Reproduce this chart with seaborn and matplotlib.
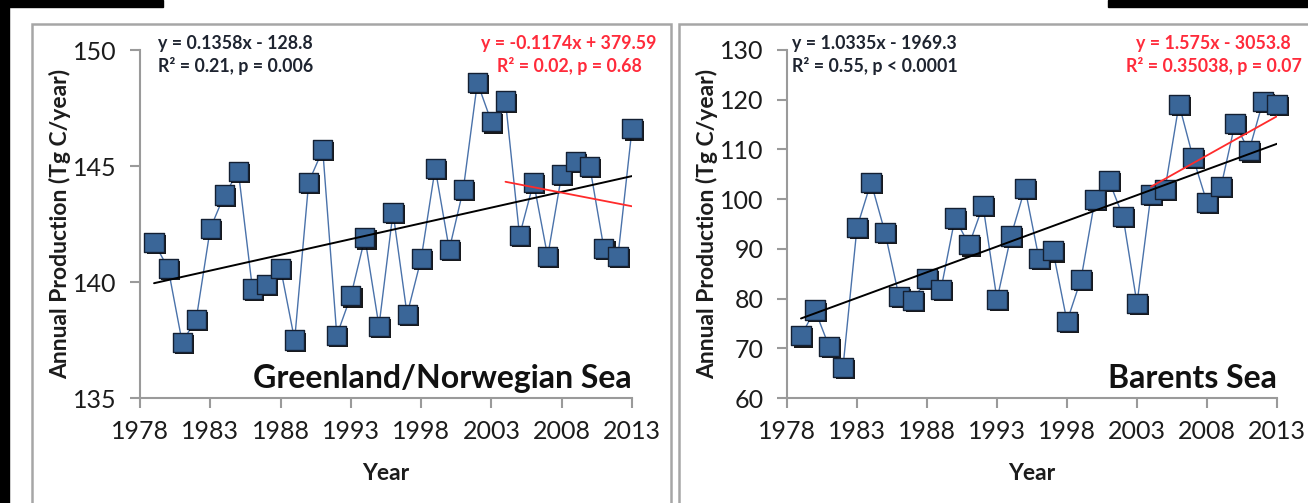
import matplotlib
matplotlib.use("Agg")
import matplotlib.pyplot as plt
import matplotlib.patheffects as pe
from matplotlib.patches import Rectangle
import seaborn as sns
import numpy as np
import pandas as pd

years = list(range(1979, 2014))
greenland = [141.7, 140.6, 137.4, 138.4, 142.3, 143.75, 144.75, 139.7, 139.9, 140.6,
             137.5, 144.3, 145.7, 137.7, 139.4, 141.9, 138.1, 143.0, 138.6, 141.0,
             144.9, 141.4, 144.0, 148.6, 146.9, 147.8, 142.0, 144.3, 141.1, 144.65,
             145.2, 144.97, 141.45, 141.1, 146.6]
barents = [72.5, 77.7, 70.4, 66.2, 94.3, 103.4, 93.3, 80.4, 79.6, 84.1,
           81.9, 96.2, 90.8, 98.7, 79.8, 92.6, 102.2, 88.0, 89.6, 75.4,
           83.9, 100.0, 103.7, 96.5, 79.0, 101.0, 102.0, 119.1, 108.4, 99.3,
           102.5, 115.2, 109.7, 119.7, 119.1]

# trend lines (slope, intercept, start year, end year) as printed on the chart
gn_full = (0.1358, -128.8, 1979, 2013)
gn_recent = (-0.1174, 379.59, 2004, 2013)
bs_full = (1.0335, -1969.3, 1979, 2013)
bs_recent = (1.575, -3053.8, 2004, 2013)

gn_eq = ["y = 0.1358x - 128.8", "R² = 0.21, p = 0.006"]
gn_eq_red = ["y = -0.1174x + 379.59", "R² = 0.02, p = 0.68"]
bs_eq = ["y = 1.0335x - 1969.3", "R² = 0.55, p < 0.0001"]
bs_eq_red = ["y = 1.575x - 3053.8", "R² = 0.35038, p = 0.07"]

xticks = [1978, 1983, 1988, 1993, 1998, 2003, 2008, 2013]
gn_yticks = [135, 140, 145, 150]
bs_yticks = [60, 70, 80, 90, 100, 110, 120, 130]

sns.set_theme(style="white")
plt.rcParams['font.family'] = ['Lato', 'DejaVu Sans']

W, H = 1308, 503
fig = plt.figure(figsize=(W / 100, H / 100), dpi=100)
fig.patch.set_facecolor("white")

def fx(px):
    return px / W

def fy(py):
    return 1 - py / H

# panel frames and black bars
frame_col = "#a6a6a6"
fig.patches.append(Rectangle((fx(32), -0.01), fx(671 - 32), fy(24) + 0.01, transform=fig.transFigure,
                             fill=False, edgecolor=frame_col, lw=1.8, zorder=0))
fig.patches.append(Rectangle((fx(679), -0.01), fx(700), fy(24) + 0.01, transform=fig.transFigure,
                             fill=False, edgecolor=frame_col, lw=1.8, zorder=0))
fig.patches.append(Rectangle((0, 0), fx(9), 1, transform=fig.transFigure, color="black", zorder=5))
fig.patches.append(Rectangle((0, fy(7)), fx(163), fy(0) - fy(7), transform=fig.transFigure, color="black", zorder=5))
fig.patches.append(Rectangle((fx(1108), fy(7)), fx(200), fy(0) - fy(7), transform=fig.transFigure, color="black", zorder=5))

axL = fig.add_axes([fx(140), fy(398), fx(632 - 140), fy(50) - fy(398)])
axR = fig.add_axes([fx(787), fy(398), fx(1277 - 787), fy(50) - fy(398)])

marker_col = "#3a6698"
line_col = "#4a72aa"
txt_col = "#1c1c1c"
eq_size = 12.8

def panel(ax, vals, full, recent, eq, eq_red, yticks, title, eq_x, red_x):
    df = pd.DataFrame({"Year": years, "val": vals})
    ax.set_facecolor("none")
    sns.lineplot(data=df, x="Year", y="val", ax=ax, color=line_col, lw=1.0, zorder=2)
    for (m, b, x0, x1), col, lw in [(full, "black", 1.4), (recent, "#ff2b2b", 1.3)]:
        xx = np.array([x0, x1])
        tdf = pd.DataFrame({"Year": xx, "val": m * xx + b})
        sns.lineplot(data=tdf, x="Year", y="val", ax=ax, color=col, lw=lw, zorder=4)
    sc = sns.scatterplot(data=df, x="Year", y="val", ax=ax, marker="s", s=190,
                         color=marker_col, edgecolor="#142033", linewidth=1.0, zorder=3)
    coll = sc.collections[-1]
    coll.set_clip_on(False)
    coll.set_path_effects([
        pe.SimplePatchShadow(offset=(1.5, -1.5), shadow_rgbFace="black", alpha=0.9),
        pe.Normal()])
    ax.set_xlim(1978, 2013)
    ax.set_ylim(yticks[0], yticks[-1])
    ax.set_xticks(xticks)
    ax.set_yticks(yticks)
    ax.tick_params(axis="both", which="major", direction="out", length=7, width=1.5,
                   color="#9a9a9a", labelsize=18, labelcolor=txt_col, pad=10,
                   left=True, bottom=True)
    ax.tick_params(axis="x", pad=9)
    for s in ["top", "right"]:
        ax.spines[s].set_visible(False)
    for s in ["left", "bottom"]:
        ax.spines[s].set_color("#9a9a9a")
        ax.spines[s].set_linewidth(1.5)
    ax.set_xlabel("Year", fontsize=16.5, fontweight="bold", color=txt_col, labelpad=14)
    ax.set_ylabel("Annual Production (Tg C/year)", fontsize=16.5, fontweight="bold",
                  color=txt_col, labelpad=1)
    ax.text(eq_x, 1.02, eq[0], transform=ax.transAxes, ha="left", va="center",
            fontsize=eq_size, fontweight="bold", color="#1e2430")
    ax.text(eq_x, 0.954, eq[1], transform=ax.transAxes, ha="left", va="center",
            fontsize=eq_size, fontweight="bold", color="#1e2430")
    ax.text(red_x, 1.02, eq_red[0], transform=ax.transAxes, ha="center", va="center",
            fontsize=eq_size, fontweight="bold", color="#ff2b3b", clip_on=False)
    ax.text(red_x, 0.954, eq_red[1], transform=ax.transAxes, ha="center", va="center",
            fontsize=eq_size, fontweight="bold", color="#ff2b3b", clip_on=False)
    ax.text(1.0, 0.03, title, transform=ax.transAxes, ha="right", va="baseline",
            fontsize=23, fontweight="bold", color="#111111")

panel(axL, greenland, gn_full, gn_recent, gn_eq, gn_eq_red, gn_yticks,
      "Greenland/Norwegian Sea", 0.037, 0.872)
panel(axR, barents, bs_full, bs_recent, bs_eq, bs_eq_red, bs_yticks,
      "Barents Sea", 0.010, 0.871)

fig.savefig("out.png", dpi=100)
